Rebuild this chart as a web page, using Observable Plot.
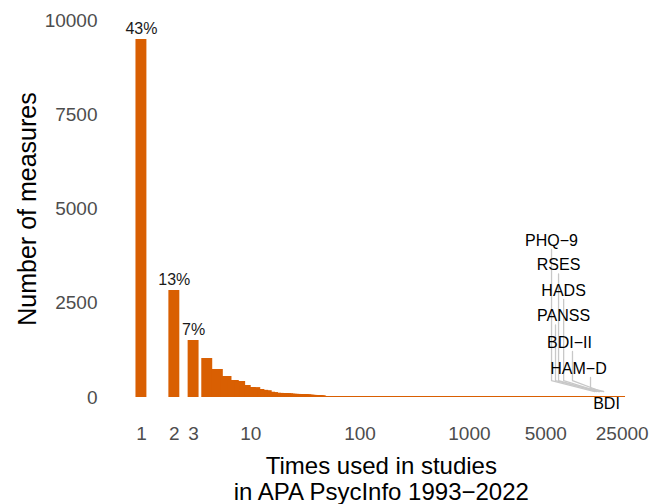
<!DOCTYPE html>
<html>
<head>
<meta charset="utf-8">
<script src="https://cdn.jsdelivr.net/npm/d3@7"></script>
<script src="https://cdn.jsdelivr.net/npm/@observablehq/plot@0.6"></script>
<style>
  html, body { margin: 0; padding: 0; background: #fff; }
</style>
</head>
<body>
<div id="chart"></div>
<script>
// ---- data ----
const timesUsed = Array.from({length: 44}, (_, i) => i + 1);
const measureCounts = [9496, 2838, 1512, 1034, 743, 557, 451, 424, 318, 265, 262, 212, 190, 180, 140, 130,
  112, 109, 106, 103, 100, 97, 88, 85, 83, 81, 79, 77, 75, 73, 71, 69, 62, 60, 58, 56, 54, 52, 50, 48, 46, 44, 42, 40];
const tailStart = 45;          // sparse measures used more often
const tailEnd = 26800;         // most used measure (BDI)
const pctAt = [1, 2, 3];
const pctLabels = ["43%", "13%", "7%"];
const xTicks = [1, 2, 3, 10, 100, 1000, 5000, 25000];
const yTicks = [0, 2500, 5000, 7500, 10000];
const xTitleLines = ["Times used in studies", "in APA PsycInfo 1993\u22122022"];
const yTitle = "Number of measures";

const measureNames = ["PHQ\u22129", "RSES", "HADS", "PANSS", "BDI\u2212II", "HAM\u2212D", "BDI"];
const labelX = [5640, 6540, 7270, 7270, 8240, 9960, 17960];
const labelY = [4164, 3515, 2838, 2162, 1459, 769, -172];
const segX = [5640, 6540, 7280, 6135, 8770, 12820];
const segTop = [3926, 3276, 2600, 1923, 1220, 530];
const segBend = [450, 450, 450, 450, 450, 239];
const segEndX = [14000, 14600, 15200, 15500, 16100, 16900];
const segEndY = [159, 159, 159, 159, 159, 159];

const orange = "#D95F02";
const grey = "#c8c8c8";

// ---- derived tables ----
const bars = timesUsed.map((n, i) => ({n, count: measureCounts[i]}));
const pcts = pctAt.map((n, i) => ({n, count: measureCounts[n - 1], label: pctLabels[i]}));
const labels = measureNames.map((m, i) => ({m, x: labelX[i], y: labelY[i]}));
const connectors = [];
segX.forEach((x, i) => {
  connectors.push({m: measureNames[i], x, y: segTop[i]});
  connectors.push({m: measureNames[i], x, y: segBend[i]});
  connectors.push({m: measureNames[i], x: segEndX[i], y: segEndY[i]});
});
const tail = [{y: 0, x1: tailStart, x2: tailEnd}];

const halfWidth = Math.pow(10, 0.05);

const chart = Plot.plot({
  width: 649,
  height: 504,
  marginLeft: 124,
  marginRight: 11.3,
  marginTop: 20,
  marginBottom: 107,
  style: {fontFamily: "'Liberation Sans', Arial, Helvetica, sans-serif", fontSize: "16px", background: "#fff"},
  x: {type: "log", domain: [0.7, 35000], axis: null},
  y: {domain: [0, 10000]},
  marks: [
    Plot.axisY({ticks: yTicks, tickSize: 0, tickPadding: 27, tickFormat: d => String(d), fontSize: 19, fill: "#4d4d4d", label: null}),
    Plot.text(xTicks, {x: d => d, y: () => 0, text: d => String(d), lineAnchor: "top", dy: 29, fontSize: 19, fill: "#4d4d4d"}),
    Plot.ruleY(tail, {y: "y", x1: "x1", x2: "x2", stroke: orange, strokeWidth: 1.2, dy: -1}),
    Plot.rect(bars, {x1: d => d.n / halfWidth, x2: d => d.n * halfWidth, y1: () => 0, y2: "count", fill: orange}),
    Plot.text(pcts, {x: "n", y: "count", text: "label", dy: -11, fontSize: 16, fill: "#1a1a1a"}),
    Plot.line(connectors, {x: "x", y: "y", z: "m", stroke: grey, strokeWidth: 1.3}),
    Plot.text(labels, {x: "x", y: "y", text: "m", fontSize: 16, fill: "#000"}),
    Plot.text([yTitle], {frameAnchor: "left", textAnchor: "middle", dx: -97, rotate: -90, fontSize: 25, fill: "#000"}),
    Plot.text([xTitleLines[0]], {frameAnchor: "bottom", lineAnchor: "top", dy: 59, fontSize: 24, fill: "#000"}),
    Plot.text([xTitleLines[1]], {frameAnchor: "bottom", lineAnchor: "top", dy: 85, fontSize: 24, fill: "#000"})
  ]
});
document.getElementById("chart").appendChild(chart);
</script>
</body>
</html>
